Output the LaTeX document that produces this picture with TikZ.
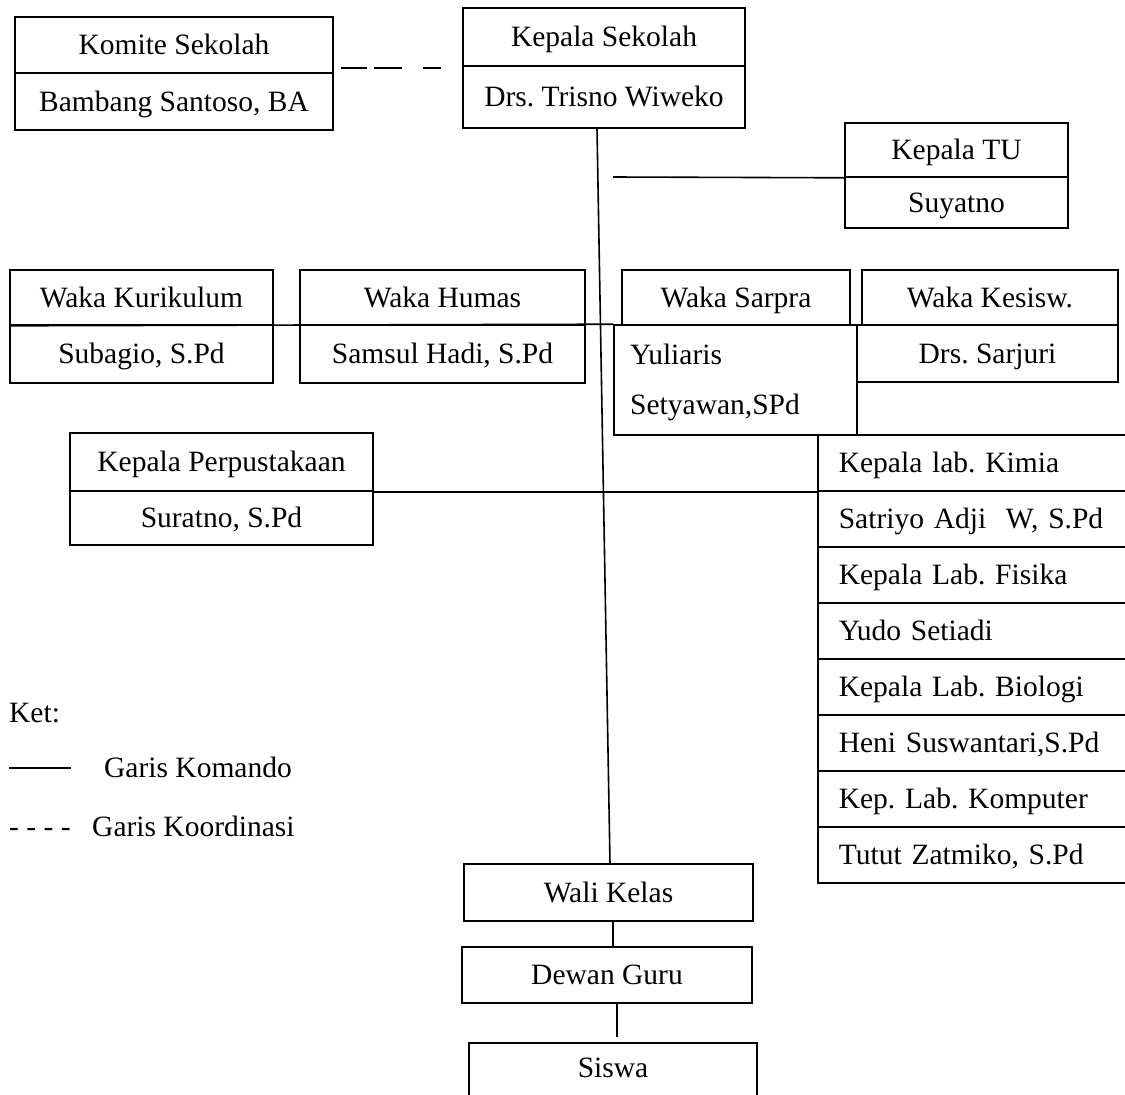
\documentclass[tikz,border=0pt]{standalone}
\usepackage{fontspec}
\setmainfont{Liberation Serif}
\begin{document}
\frenchspacing
\begin{tikzpicture}[x=1pt,y=-1pt,
  every node/.style={font=\fontsize{29.5pt}{35pt}\selectfont},
  box/.style={draw, line width=1.6pt, rectangle, inner sep=0pt, text height=19.5pt, text depth=0pt},
  labrow/.style={box, anchor=west, minimum width=323pt, minimum height=56pt, text width=281pt, align=left, inner xsep=21pt},
  conn/.style={line width=1.6pt},
  plain/.style={inner sep=0pt, anchor=west, text height=19.5pt, text depth=0pt}
]
\useasboundingbox (0,0) rectangle (1125,1095);

% Komite Sekolah
\node[box, minimum width=318pt, minimum height=56pt] (komT) at (174,45) {Komite Sekolah};
\node[box, minimum width=318pt, minimum height=57pt] (komN) at (174,101.5) {Bambang Santoso, BA};

% Kepala Sekolah
\node[box, minimum width=282pt, minimum height=58pt] (ksT) at (604,37) {Kepala Sekolah};
\node[box, minimum width=282pt, minimum height=62pt] (ksN) at (604,97) {Drs. Trisno Wiweko};

% Kepala TU
\node[box, minimum width=223pt, minimum height=54pt] (ktT) at (956.5,150) {Kepala TU};
\node[box, minimum width=223pt, minimum height=51pt] (ktN) at (956.5,202.5) {Suyatno};

% Waka row
\node[box, minimum width=263pt, minimum height=55pt] (wkkT) at (141.5,297.5) {Waka Kurikulum};
\node[box, minimum width=263pt, minimum height=58pt] (wkkN) at (141.5,354) {Subagio, S.Pd};
\node[box, minimum width=285pt, minimum height=55pt] (whT) at (442.5,297.5) {Waka Humas};
\node[box, minimum width=285pt, minimum height=58pt] (whN) at (442.5,354) {Samsul Hadi, S.Pd};
\node[box, minimum width=228pt, minimum height=55pt] (wsT) at (736,297.5) {Waka Sarpra};
\node[box, minimum width=243pt, minimum height=110pt] (wsN) at (735.5,380) {};
\node[plain] (wsN1) at (630,355) {Yuliaris};
\node[plain] (wsN2) at (630,405) {Setyawan,SPd};
\node[box, minimum width=256pt, minimum height=55pt] (wkT) at (990,297.5) {Waka Kesisw.};
\node[box, minimum width=261pt, minimum height=57pt] (wkN) at (987.5,353.5) {Drs. Sarjuri};

% Perpustakaan
\node[box, minimum width=303pt, minimum height=58pt] (perT) at (221.5,462) {Kepala Perpustakaan};
\node[box, minimum width=303pt, minimum height=54pt] (perN) at (221.5,518) {Suratno, S.Pd};

% Lab column
\node[labrow] (lab1) at (817,463) {Kepala lab. Kimia};
\node[labrow] (lab2) at (817,519) {Satriyo Adji\ \ W, S.Pd};
\node[labrow] (lab3) at (817,575) {Kepala Lab. Fisika};
\node[labrow] (lab4) at (817,631) {Yudo Setiadi};
\node[labrow] (lab5) at (817,687) {Kepala Lab. Biologi};
\node[labrow] (lab6) at (817,743) {Heni Suswantari,S.Pd};
\node[labrow] (lab7) at (817,799) {Kep. Lab. Komputer};
\node[labrow] (lab8) at (817,855) {Tutut Zatmiko, S.Pd};

% Bottom chain
\node[box, minimum width=289pt, minimum height=57pt] (wali) at (608.5,892.5) {Wali Kelas};
\node[box, minimum width=290pt, minimum height=56pt] (dewan) at (607,975) {Dewan Guru};
\node[box, minimum width=288pt, minimum height=67pt, text depth=17.5pt] (siswa) at (613,1076.5) {Siswa};

% Legend
\node[plain] (ket) at (9,713) {Ket:};
\coordinate (legA) at (9,768);
\coordinate (legB) at (71,768);
\node[plain] (komando) at (104,768) {Garis Komando};
\node[plain] (dashes) at (9,827) {- - - -};
\node[plain] (koord) at (92,827) {Garis Koordinasi};

% Connectors
\draw[conn, dash pattern=on 26pt off 7pt on 28pt off 21pt on 22pt]
  ([xshift=7pt,yshift=6pt]komT.south east) -- ([xshift=-21pt,yshift=-1pt]ksT.south west);
\draw[conn] ([xshift=-7pt]ksN.south) -- ([xshift=1.5pt]wali.north);
\coordinate (ktL) at (613,177);
\draw[conn] (ktL) -- (ktT.south west);
\draw[conn] (wkkT.south west) -- (wsN.north west);
\draw[conn] (perT.south east) -- (lab1.south west);
\draw[conn] ([xshift=4.5pt]wali.south) -- ([xshift=6pt]dewan.north);
\coordinate (sgap) at (617,1037);
\draw[conn] ([xshift=10pt]dewan.south) -- (sgap);
\draw[conn] (legA) -- (legB);
\end{tikzpicture}
\end{document}
